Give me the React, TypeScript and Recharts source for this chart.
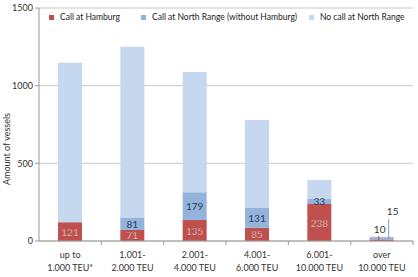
import React from "react";
import { Bar, BarChart, CartesianGrid, Label, LabelList, XAxis, YAxis } from "recharts";

const categories = [
  ["up to", "1.000 TEU*"],
  ["1.001-", "2.000 TEU"],
  ["2.001-", "4.000 TEU"],
  ["4.001-", "6.000 TEU"],
  ["6.001-", "10.000 TEU"],
  ["over", "10.000 TEU"],
];
const hamburg = [121, 71, 135, 85, 238, 10];
const northRange = [0, 81, 179, 131, 33, 15];
const noCall = [1027, 1099, 774, 563, 122, 3];
// the last bar is too thin for inside labels, so its labels sit above it
const outsideLabel = [false, false, false, false, false, true];
const yTicks = [0, 500, 1000, 1500];

const series = [
  { key: "hamburg", name: "Call at Hamburg", color: "#c0504d" },
  { key: "north", name: "Call at North Range (without Hamburg)", color: "#93b3dc" },
  { key: "none", name: "No call at North Range", color: "#c6d8ef" },
];

const data = categories.map((c, i) => ({
  name: c.join(" "),
  hamburg: hamburg[i],
  north: northRange[i],
  none: noCall[i],
  hamburgIn: outsideLabel[i] ? null : hamburg[i],
  northIn: outsideLabel[i] || !northRange[i] ? null : northRange[i],
  hamburgOut: outsideLabel[i] ? hamburg[i] : null,
  northOut: outsideLabel[i] ? northRange[i] : null,
}));

const FONT = "Lato, 'Open Sans', sans-serif";

function XTick({ x, y, payload, index }: any) {
  const lines = categories[index] || [];
  return (
    <g>
      <line x1={x + 31.2} x2={x + 31.2} y1={y - 8} y2={y - 4} stroke="#9a9a9a" />
      {lines.map((l, i) => (
        <text key={i} x={x} y={y + 9 + i * 13} textAnchor="middle" fontSize={9} fill="#333" fontFamily={FONT}>
          {l}
        </text>
      ))}
    </g>
  );
}

function RedIn({ x, y, width, height, value }: any) {
  if (value == null) return null;
  return (
    <text
      x={x + width / 2}
      y={y + height / 2 + 4}
      textAnchor="middle"
      fontSize={10}
      fill="#f6e2e2"
      stroke="#8e3432"
      strokeWidth={0.25}
      fontFamily={FONT}
    >
      {value}
    </text>
  );
}

function BlueIn({ x, y, width, height, value }: any) {
  if (value == null) return null;
  return (
    <text x={x + width / 2} y={y + height / 2 + 4} textAnchor="middle" fontSize={10} fill="#2f3e5c" fontFamily={FONT}>
      {value}
    </text>
  );
}

function RedOut({ x, y, height, value }: any) {
  if (value == null) return null;
  const lx = x + 9;
  return (
    <g>
      <line x1={lx} x2={lx} y1={y + height - 5} y2={y + height} stroke="#c0504d" strokeWidth={1} />
      <text x={lx + 1} y={y + height - 8} textAnchor="middle" fontSize={10} fill="#333" fontFamily={FONT}>
        {value}
      </text>
    </g>
  );
}

function BlueOut({ x, y, height, value }: any) {
  if (value == null) return null;
  const lx = x + 19;
  return (
    <g>
      <line x1={lx} x2={lx} y1={y - 18} y2={y + height} stroke="#7f9cc4" strokeWidth={1} />
      <text x={lx + 4} y={y - 22} textAnchor="middle" fontSize={10} fill="#333" fontFamily={FONT}>
        {value}
      </text>
    </g>
  );
}

function LegendBox() {
  const widths = [92, 168, 100];
  return (
    <div
      style={{
        position: "absolute",
        top: 9,
        left: 43,
        width: 368,
        display: "flex",
        background: "#fff",
        padding: "3px 0 3px 6px",
        boxSizing: "border-box",
        fontFamily: FONT,
        fontSize: 8.5,
        color: "#222",
        whiteSpace: "nowrap",
      }}
    >
      {series.map((s, i) => (
        <div key={s.key} style={{ display: "flex", alignItems: "center", width: widths[i] }}>
          <span style={{ display: "inline-block", width: 5, height: 5, background: s.color, marginRight: 6 }} />
          {s.name}
        </div>
      ))}
    </div>
  );
}

function YTitle() {
  const cy = 149;
  return (
    <text x={10} y={cy} transform={`rotate(-90 10 ${cy})`} textAnchor="middle" fontSize={9} fill="#333" fontFamily={FONT}>
      Amount of vessels
    </text>
  );
}

export default function App() {
  return (
    <div style={{ position: "absolute", left: 0, top: 0, width: 418, height: 277, background: "#fff" }}>
      <BarChart width={418} height={277} data={data} margin={{ top: 8, right: 5, left: 0, bottom: 0 }} barSize={24}>
        <CartesianGrid vertical={false} stroke="#c8c8c8" />
        <XAxis
          dataKey="name"
          height={36}
          axisLine={{ stroke: "#9a9a9a" }}
          tickLine={false}
          tick={<XTick />}
          interval={0}
        />
        <YAxis
          width={39}
          domain={[0, 1500]}
          ticks={yTicks}
          axisLine={{ stroke: "#9a9a9a" }}
          tickLine={{ stroke: "#9a9a9a" }}
          tickSize={4}
          tick={{ fontSize: 9, fill: "#333", fontFamily: FONT }}
        >
          <Label content={<YTitle />} />
        </YAxis>
        <Bar dataKey="hamburg" name={series[0].name} stackId="a" fill={series[0].color} isAnimationActive={false}>
          <LabelList dataKey="hamburgIn" content={<RedIn />} />
          <LabelList dataKey="hamburgOut" content={<RedOut />} />
        </Bar>
        <Bar dataKey="north" name={series[1].name} stackId="a" fill={series[1].color} isAnimationActive={false}>
          <LabelList dataKey="northIn" content={<BlueIn />} />
          <LabelList dataKey="northOut" content={<BlueOut />} />
        </Bar>
        <Bar dataKey="none" name={series[2].name} stackId="a" fill={series[2].color} isAnimationActive={false} />
      </BarChart>
      <LegendBox />
    </div>
  );
}
